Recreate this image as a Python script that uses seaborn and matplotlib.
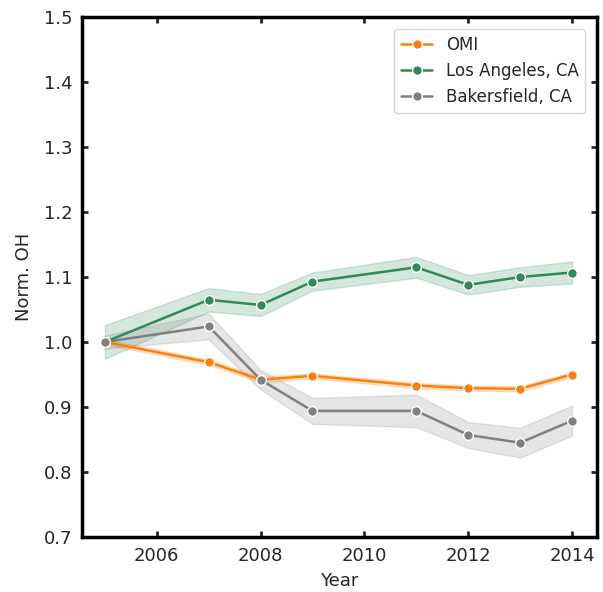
import numpy as np
import pandas as pd
import matplotlib
matplotlib.use("Agg")
import matplotlib.pyplot as plt
import seaborn as sns

years = [2005, 2007, 2008, 2009, 2011, 2012, 2013, 2014]
omi = [1.000, 0.969, 0.942, 0.948, 0.933, 0.929, 0.928, 0.950]
omi_err = [0.004, 0.004, 0.004, 0.004, 0.004, 0.004, 0.004, 0.004]
la = [1.000, 1.065, 1.057, 1.093, 1.115, 1.088, 1.100, 1.107]
la_err = [0.026, 0.018, 0.017, 0.014, 0.016, 0.015, 0.015, 0.017]
bak = [1.000, 1.024, 0.942, 0.894, 0.894, 0.857, 0.845, 0.879]
bak_err = [0.010, 0.020, 0.015, 0.020, 0.025, 0.020, 0.023, 0.023]
names = ["OMI", "Los Angeles, CA", "Bakersfield, CA"]
colors = ["#ff7f0e", "#2e8b57", "#808080"]

rows = []
for name, vals, errs in zip(names, [omi, la, bak], [omi_err, la_err, bak_err]):
    for y, v, e in zip(years, vals, errs):
        for d in (-e, 0.0, e):
            rows.append({"Year": y, "Norm. OH": v + d, "series": name})
df = pd.DataFrame(rows)

sns.set_style("white")
fig, ax = plt.subplots(figsize=(6.03, 5.92), dpi=100)
sns.lineplot(data=df, x="Year", y="Norm. OH", hue="series", hue_order=names,
             palette=colors, marker="o", markersize=7, markeredgecolor="white",
             markeredgewidth=1, linewidth=1.8, errorbar=("pi", 100),
             err_kws={"alpha": 0.2}, ax=ax)

ax.set_xlim(2004.56, 2014.48)
ax.set_ylim(0.7, 1.5)
ax.set_xticks([2006, 2008, 2010, 2012, 2014])
ax.set_yticks(np.arange(0.7, 1.51, 0.1))
ax.set_yticklabels([f"{t:.1f}" for t in np.arange(0.7, 1.51, 0.1)])
ax.tick_params(direction="in", length=4, width=2, labelsize=13, pad=7,
               top=True, right=True, bottom=True, left=True)
for s in ax.spines.values():
    s.set_linewidth(2.5)
    s.set_color("black")
ax.set_xlabel("Year", fontsize=13, labelpad=5)
ax.set_ylabel("Norm. OH", fontsize=13, labelpad=8)
leg = ax.legend(loc="upper right", fontsize=12, frameon=True, handlelength=1.9,
                borderaxespad=0.7)
leg.set_title(None)

fig.subplots_adjust(left=0.136, right=0.99, top=0.971, bottom=0.093)
fig.savefig("out.png", dpi=100)
